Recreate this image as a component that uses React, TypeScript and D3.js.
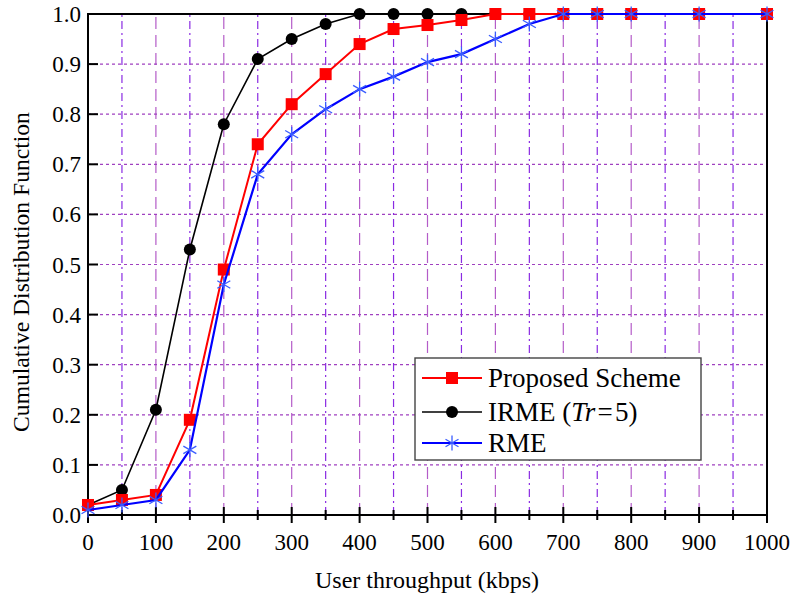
import React, { useEffect, useRef } from "react";
import * as d3 from "d3";

const throughput = [0, 50, 100, 150, 200, 250, 300, 350, 400, 450, 500, 550, 600, 650, 700, 750, 800, 900, 1000];
const proposed = [0.02, 0.03, 0.04, 0.19, 0.49, 0.74, 0.82, 0.88, 0.94, 0.97, 0.978, 0.988, 1, 1, 1, 1, 1, 1, 1];
const irme = [0.02, 0.05, 0.21, 0.53, 0.78, 0.91, 0.95, 0.98, 1, 1, 1, 1, 1, 1, 1, 1, 1, 1, 1];
const rme = [0.01, 0.02, 0.03, 0.13, 0.46, 0.68, 0.76, 0.81, 0.85, 0.875, 0.904, 0.92, 0.95, 0.98, 1, 1, 1, 1, 1];
const xTicks = [0, 100, 200, 300, 400, 500, 600, 700, 800, 900, 1000];
const yTicks = [0, 0.1, 0.2, 0.3, 0.4, 0.5, 0.6, 0.7, 0.8, 0.9, 1.0];

const App = () => {
  const ref = useRef(null);

  useEffect(() => {
    const svg = d3.select(ref.current);
    svg.selectAll("*").remove();
    const font = "'Liberation Serif', 'Times New Roman', serif";

    const x = d3.scaleLinear().domain([0, 1000]).range([88, 767]);
    const y = d3.scaleLinear().domain([0, 1]).range([515, 14]);

    // grid
    const g = svg.append("g");
    d3.range(50, 1000, 50).forEach((v) => {
      const major = v % 100 === 0;
      g.append("line")
        .attr("x1", x(v)).attr("x2", x(v))
        .attr("y1", y(0)).attr("y2", y(1))
        .attr("stroke", major ? "#b45cc8" : "#8a2be2")
        .attr("stroke-width", 1.2)
        .attr("stroke-dasharray", major ? "12,6" : "8,4,2,4");
    });
    yTicks.slice(1, -1).forEach((v) => {
      g.append("line")
        .attr("x1", x(0)).attr("x2", x(1000))
        .attr("y1", y(v)).attr("y2", y(v))
        .attr("stroke", "#a040c0")
        .attr("stroke-width", 1.2)
        .attr("stroke-dasharray", "3,3");
    });

    // frame
    svg.append("rect")
      .attr("x", x(0)).attr("y", y(1))
      .attr("width", x(1000) - x(0)).attr("height", y(0) - y(1))
      .attr("fill", "none").attr("stroke", "#000").attr("stroke-width", 2);

    // x ticks
    d3.range(0, 1001, 50).forEach((v) => {
      const major = v % 100 === 0;
      svg.append("line")
        .attr("x1", x(v)).attr("x2", x(v))
        .attr("y1", y(0) - (major ? 8 : 5)).attr("y2", y(0) + (major ? 8 : 5))
        .attr("stroke", "#000").attr("stroke-width", 2);
    });
    xTicks.forEach((v) => {
      svg.append("text")
        .attr("x", x(v)).attr("y", 550)
        .attr("text-anchor", "middle")
        .attr("font-family", font).attr("font-size", 23)
        .text(v);
    });

    // y ticks
    yTicks.forEach((v) => {
      svg.append("line")
        .attr("x1", x(0)).attr("x2", x(0) + 10)
        .attr("y1", y(v)).attr("y2", y(v))
        .attr("stroke", "#000").attr("stroke-width", 2);
      svg.append("text")
        .attr("x", 81).attr("y", y(v) + 8)
        .attr("text-anchor", "end")
        .attr("font-family", font).attr("font-size", 23)
        .text(v.toFixed(1));
    });

    svg.append("text")
      .attr("x", 427).attr("y", 588)
      .attr("text-anchor", "middle")
      .attr("font-family", font).attr("font-size", 24)
      .text("User throughput (kbps)");
    svg.append("text")
      .attr("transform", `translate(29,272) rotate(-90)`)
      .attr("text-anchor", "middle")
      .attr("font-family", font).attr("font-size", 23.6)
      .text("Cumulative Distribution Function");

    const line = d3.line<number>().x((d, i) => x(throughput[i])).y((d) => y(d));

    const drawSquare = (sel, cx, cy) =>
      sel.append("rect").attr("x", cx - 6).attr("y", cy - 6).attr("width", 12).attr("height", 12).attr("fill", "#ff0000");
    const drawCircle = (sel, cx, cy) =>
      sel.append("circle").attr("cx", cx).attr("cy", cy).attr("r", 6).attr("fill", "#000");
    const drawStar = (sel, cx, cy) => {
      const s = sel.append("g").attr("stroke", "#3a5cff").attr("stroke-width", 1.3);
      const r = 7.5;
      [0, 60, 120].forEach((a) => {
        const rad = (a * Math.PI) / 180;
        s.append("line")
          .attr("x1", cx - r * Math.sin(rad)).attr("y1", cy - r * Math.cos(rad))
          .attr("x2", cx + r * Math.sin(rad)).attr("y2", cy + r * Math.cos(rad));
      });
    };

    const series = [
      { data: irme, color: "#000000", width: 1.6, marker: drawCircle },
      { data: proposed, color: "#ff0000", width: 2, marker: drawSquare },
      { data: rme, color: "#0000ff", width: 2.2, marker: drawStar },
    ];
    series.forEach((s) => {
      svg.append("path")
        .attr("d", line(s.data))
        .attr("fill", "none").attr("stroke", s.color).attr("stroke-width", s.width);
      const mg = svg.append("g");
      s.data.forEach((d, i) => s.marker(mg, x(throughput[i]), y(d)));
    });

    // legend
    const lg = svg.append("g");
    lg.append("rect")
      .attr("x", 415).attr("y", 358).attr("width", 286).attr("height", 102)
      .attr("fill", "#fff").attr("stroke", "#444").attr("stroke-width", 1.4);
    const entries = [
      { label: "Proposed Scheme", s: series[1] },
      { label: "IRME", s: series[0] },
      { label: "RME", s: series[2] },
    ];
    entries.forEach((e, i) => {
      const ly = [378, 412, 443][i];
      lg.append("line")
        .attr("x1", 422).attr("x2", 482).attr("y1", ly).attr("y2", ly)
        .attr("stroke", e.s.color).attr("stroke-width", e.s.width);
      e.s.marker(lg, 452, ly);
      const t = lg.append("text")
        .attr("x", 488).attr("y", ly + 9)
        .attr("font-family", font).attr("font-size", 27);
      if (i === 1) {
        t.append("tspan").text("IRME (");
        t.append("tspan").attr("font-style", "italic").text("Tr");
        t.append("tspan").text("\u200A=\u200A5)");
      } else {
        t.text(e.label);
      }
    });
  }, []);

  return <svg ref={ref} width={792} height={601} style={{ position: "absolute", left: 0, top: 0 }} />;
};

export default App;
